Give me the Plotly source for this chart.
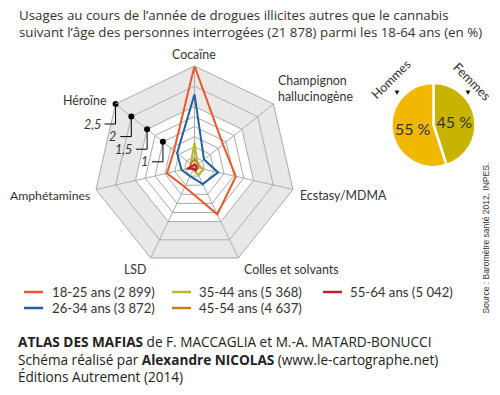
import math
import plotly.graph_objects as go

W, H = 500, 395

# ---------------- data ----------------
categories = ["Cocaïne", "Champignon hallucinogène", "Ecstasy/MDMA",
              "Colles et solvants", "LSD", "Amphétamines", "Héroïne"]
age_groups = ["18-25 ans (2 899)", "26-34 ans (3 872)", "35-44 ans (5 368)",
              "45-54 ans (4 637)", "55-64 ans (5 042)"]
v_18_25 = [2.5, 0.9, 1.05, 1.3, 0.55, 0.7, 0.65]
v_26_34 = [1.8, 0.3, 0.6, 0.47, 0.25, 0.33, 0.55]
v_35_44 = [0.6, 0.1, 0.22, 0.22, 0.08, 0.1, 0.12]
v_45_54 = [0.2, 0.12, 0.1, 0.08, 0.06, 0.1, 0.12]
v_55_64 = [0.08, 0.05, 0.05, 0.1, 0.05, 0.2, 0.05]
series = [v_18_25, v_26_34, v_35_44, v_45_54, v_55_64]
series_colors = ["#e8582a", "#1f5fa3", "#b9b824", "#c47e1c", "#c21f2d"]

scale_ticks = [1, 1.5, 2, 2.5]
scale_labels = ["1", "1,5", "2", "2,5"]
grid_ticks = [0.25, 0.5, 0.75, 1, 1.25, 1.5, 2]
r_max = 2.5
band_inner = 1.5

pie_labels = ["Femmes", "Hommes"]
pie_values = [45, 55]
pie_colors = ["#c8b400", "#f0b800"]

title_lines = ["Usages au cours de l’année de drogues illicites autres que le cannabis",
               "suivant l’âge des personnes interrogées (21 878) parmi les 18-64 ans (en %)"]
source_text = "Source : Baromètre santé 2012, INPES."
footer_lines = ["<b>ATLAS DES MAFIAS</b> de F. MACCAGLIA et M.-A. MATARD-BONUCCI",
                "Schéma réalisé par <b>Alexandre NICOLAS</b> (www.le-cartographe.net)",
                "Éditions Autrement (2014)"]

# ---------------- layout helpers ----------------
def px(x):
    return x / W

def py(y):
    return 1 - y / H

CX, CY, R = 194.5, 167.0, 101.0
TXT = "#333333"
GRID = "#a9a9a9"
FONT = "Lato"

fig = go.Figure()

closed = categories + [categories[0]]

# grey band between 1.5 and 2.5
band_r = [r_max] * (len(categories) + 1) + [band_inner] * (len(categories) + 1)
band_t = closed + [categories[0]] + categories[::-1]
fig.add_trace(go.Scatterpolar(r=band_r, theta=band_t, mode="lines", fill="toself",
                              fillcolor="rgba(185,185,185,0.33)", line=dict(width=0),
                              hoverinfo="skip", showlegend=False))

for name, vals, col in zip(age_groups, series, series_colors):
    fig.add_trace(go.Scatterpolar(r=vals + [vals[0]], theta=closed, mode="lines",
                                  name=name, line=dict(color=col, width=2),
                                  showlegend=False))

# scale dots on Héroïne axis
fig.add_trace(go.Scatterpolar(r=scale_ticks, theta=["Héroïne"] * len(scale_ticks),
                              mode="markers", marker=dict(color="black", size=6),
                              showlegend=False, hoverinfo="skip"))

# pie
fig.add_trace(go.Pie(labels=pie_labels, values=pie_values, sort=False,
                     direction="clockwise", rotation=0,
                     marker=dict(colors=pie_colors, line=dict(color="white", width=2.5)),
                     texttemplate="%{value} %", textposition="inside",
                     insidetextorientation="horizontal",
                     textfont=dict(family=FONT, size=16, color=TXT),
                     domain=dict(x=[px(391.5), px(475.5)], y=[py(167), py(83)]),
                     showlegend=False, hoverinfo="skip"))

fig.update_layout(
    width=W, height=H, margin=dict(l=0, r=0, t=0, b=0),
    paper_bgcolor="white", plot_bgcolor="white", showlegend=False,
    polar=dict(
        domain=dict(x=[px(CX - R), px(CX + R)], y=[py(CY + R), py(CY - R)]),
        gridshape="linear", bgcolor="white",
        radialaxis=dict(range=[0, r_max], tickvals=grid_ticks, showticklabels=False,
                        showline=False, ticks="", gridcolor=GRID, gridwidth=1),
        angularaxis=dict(categoryorder="array", categoryarray=categories,
                         rotation=90, direction="clockwise", showticklabels=False,
                         ticks="", showline=True, linecolor=GRID, linewidth=1,
                         gridcolor=GRID, gridwidth=1),
    ),
)

ann = []
shapes = []

def text(x, y, s, size=13, xanchor="left", color=TXT, family=FONT, **kw):
    ann.append(dict(x=px(x), y=py(y), xref="paper", yref="paper", text=s,
                    showarrow=False, xanchor=xanchor, yanchor="middle",
                    font=dict(family=family, size=size, color=color), **kw))

# title
text(17, 23.5, title_lines[0] + "<br>" + title_lines[1], size=13.3, family="Open Sans",
     align="left")

# axis labels
LS = 12.4
text(194, 54, "Cocaïne", xanchor="center", size=LS)
text(276, 88.5, "Champignon<br>hallucinogène", align="left", size=LS)
text(298, 195, "Ecstasy/MDMA", size=LS)
text(242, 269, "Colles et solvants", size=LS)
text(135, 269, "LSD", xanchor="center", size=LS)
text(92, 195, "Amphétamines", xanchor="right", size=12.2)
text(109, 100, "Héroïne", xanchor="right", size=LS)

# scale leader lines + labels
her_idx = categories.index("Héroïne")
ang = math.radians(90 - her_idx * 360 / len(categories))
for v, lab in zip(scale_ticks, scale_labels):
    dx = CX + v * R / r_max * math.cos(ang)
    dy = CY - v * R / r_max * math.sin(ang)
    ly = dy + 20
    shapes.append(dict(type="path", xref="paper", yref="paper",
                       path=f"M {px(dx)},{py(dy)} L {px(dx)},{py(ly)} L {px(dx - 11)},{py(ly)}",
                       line=dict(color="black", width=1)))
    text(dx - 13, ly, f"<i>{lab}</i>", size=12.5, xanchor="right")

# legend (manual)
leg_cols = [(24, 50), (172, 197), (323, 348)]
leg_rows = [292, 308]
order = [0, 2, 4, 1, 3]
for k, si in enumerate(order):
    col = leg_cols[k % 3]
    row = leg_rows[k // 3]
    shapes.append(dict(type="line", xref="paper", yref="paper",
                       x0=px(col[0]), x1=px(col[0] + 19), y0=py(row), y1=py(row),
                       line=dict(color=series_colors[si], width=2.5)))
    text(col[1], row, age_groups[si], size=13.2)

# pie labels
text(391, 80, "Hommes", size=12.5, xanchor="center", textangle=-45)
text(472, 81, "Femmes", size=12.8, xanchor="center", textangle=45)
text(397, 92, "▼", size=8, xanchor="center", color="#111")
text(468, 92, "▼", size=8, xanchor="center", color="#111")

# source
text(485, 238.5, source_text, size=8.5, xanchor="center", textangle=-90,
     family="Liberation Sans")

# footer
text(16, 358.5, "<br>".join(footer_lines), size=13.6, family="Open Sans",
     color="#222222", align="left")

fig.update_layout(annotations=ann, shapes=shapes)
fig.write_html("out.html", post_script="document.body.style.margin='0px';",
               config={"displayModeBar": False})
